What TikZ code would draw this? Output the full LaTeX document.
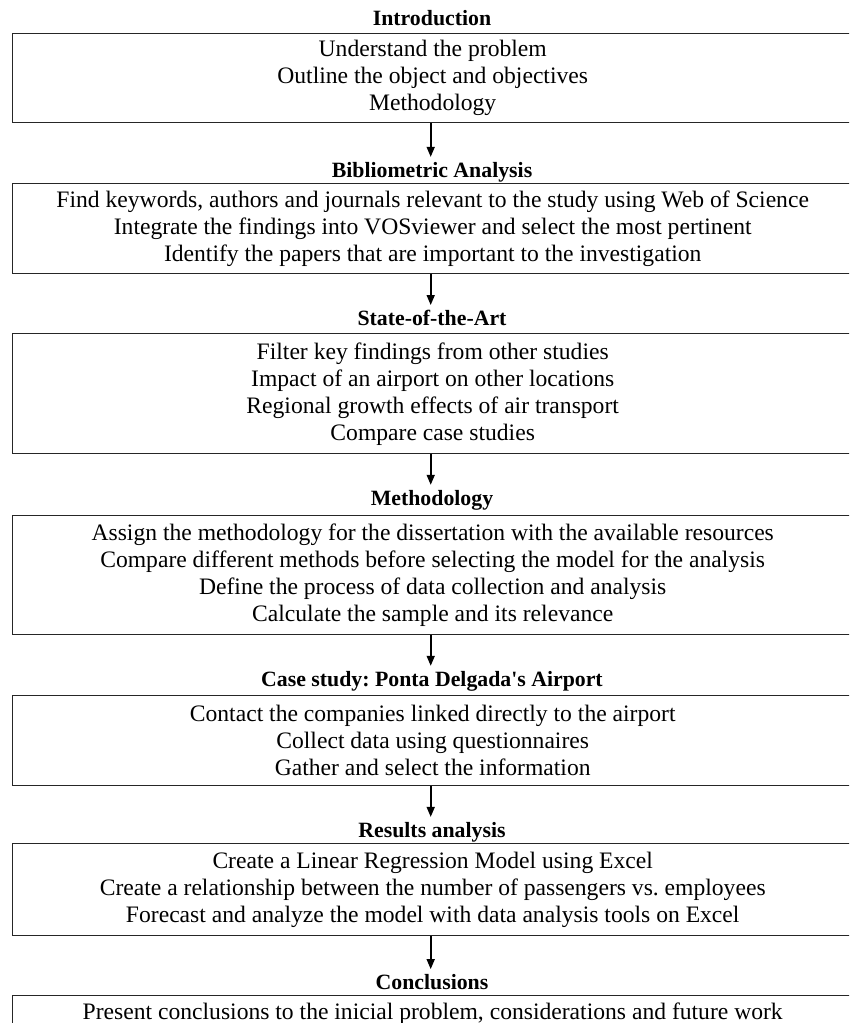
\documentclass[tikz,border=0pt]{standalone}
\usepackage{fontspec}
\setmainfont{Liberation Serif}
\usetikzlibrary{arrows.meta}
\frenchspacing
\begin{document}
\begin{tikzpicture}[x=1pt,y=1pt,
  stagebox/.style={draw=black!85, line width=1.4pt, inner sep=0pt, anchor=north west,
    minimum width=840pt, align=center, font=\fontsize{23.6}{27}\selectfont},
  stagetitle/.style={inner sep=0pt, font=\fontsize{21.8}{27}\selectfont\bfseries},
  flow/.style={line width=1.6pt, -{Triangle[width=8pt,length=10pt]}, shorten >=5pt}]
\useasboundingbox (0,0) rectangle (849,-1023);
\clip (0,0) rectangle (849,-1023);
% Introduction
\node[stagetitle] (t1) at (432,-18) {Introduction};
\node[stagebox, minimum height=89pt] (b1) at (12,-33)
  {Understand the problem\\Outline the object and objectives\\Methodology};
% Bibliometric
\node[stagetitle] (t2) at (432,-172) {Bibliometric Analysis};
\node[stagebox, minimum height=90pt] (b2) at (12,-183)
  {Find keywords, authors and journals relevant to the study using Web of Science\\
   Integrate the findings into VOSviewer and select the most pertinent\\
   Identify the papers that are important to the investigation};
% State of the art
\node[stagetitle] (t3) at (432,-318) {State-of-the-Art};
\node[stagebox, minimum height=120pt] (b3) at (12,-333)
  {Filter key findings from other studies\\Impact of an airport on other locations\\
   Regional growth effects of air transport\\Compare case studies};
% Methodology
\node[stagetitle] (t4) at (432,-500) {Methodology};
\node[stagebox, minimum height=119pt] (b4) at (12,-515)
  {Assign the methodology for the dissertation with the available resources\\
   Compare different methods before selecting the model for the analysis\\
   Define the process of data collection and analysis\\
   Calculate the sample and its relevance};
% Case study
\node[stagetitle] (t5) at (432,-681) {Case study: Ponta Delgada\textquotesingle s Airport};
\node[stagebox, minimum height=90pt] (b5) at (12,-695)
  {Contact the companies linked directly to the airport\\
   Collect data using questionnaires\\
   Gather and select the information};
% Results
\node[stagetitle] (t6) at (432,-832) {Results analysis};
\node[stagebox, minimum height=92pt] (b6) at (12,-843)
  {Create a Linear Regression Model using Excel\\
   Create a relationship between the number of passengers vs. employees\\
   Forecast and analyze the model with data analysis tools on Excel};
% Conclusions
\node[stagetitle] (t7) at (432,-982) {Conclusions};
\node[stagebox, minimum height=36pt] (b7) at (12,-995)
  {Present conclusions to the inicial problem, considerations and future work};
% arrows
\foreach \a/\b in {b1/t2,b2/t3,b3/t4,b4/t5,b5/t6,b6/t7}
  \draw[flow] ([xshift=-2pt]\a.south) -- ([xshift=-2pt]\a.south |- \b.north);
\end{tikzpicture}
\end{document}
